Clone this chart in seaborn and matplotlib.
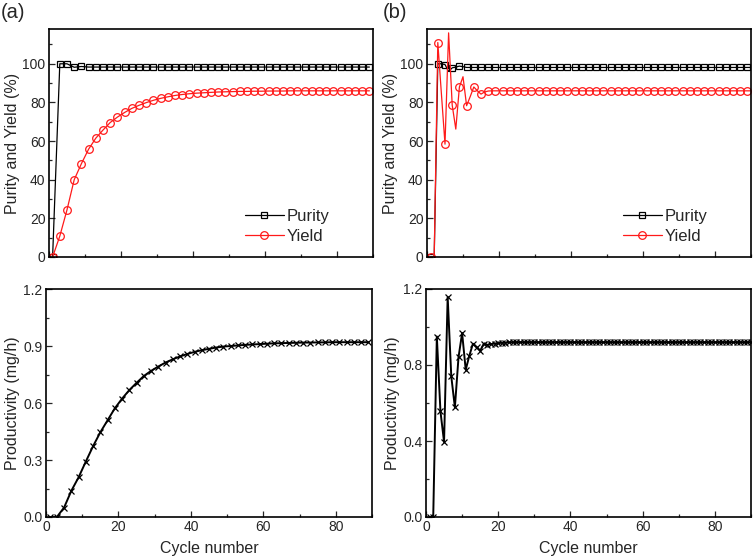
import numpy as np
import pandas as pd
import seaborn as sns
import matplotlib.pyplot as plt
from matplotlib.ticker import MultipleLocator

sns.set_style("ticks")
plt.rcParams['font.family'] = ['Liberation Sans', 'DejaVu Sans']

# (a) sampled every other cycle
cycles_a = list(range(1, 90, 2))
purity_a = [0, 100, 100, 98.2, 98.6] + [98.3] * 40
yield_a = [0, 10.8, 24.4, 40.0, 48.3, 55.8, 61.5, 65.7, 69.6, 72.4, 74.8, 76.9,
           78.5, 79.9, 81.1, 82.1, 82.9, 83.6, 84.1, 84.5, 84.8, 85.0, 85.2,
           85.4, 85.5, 85.6, 85.7, 85.7, 85.8, 85.8, 85.9, 85.9, 85.9, 86.0,
           86.0, 86.0, 86.0, 86.0, 86.0, 86.0, 86.0, 86.0, 86.0, 86.0, 86.0]
prod_a = [0, 0, 0.05, 0.138, 0.209, 0.292, 0.373, 0.446, 0.509, 0.572, 0.623,
          0.668, 0.706, 0.742, 0.769, 0.792, 0.813, 0.830, 0.845, 0.858, 0.869,
          0.878, 0.885, 0.892, 0.897, 0.900, 0.903, 0.906, 0.908, 0.910, 0.912,
          0.914, 0.915, 0.916, 0.917, 0.918, 0.918, 0.919, 0.919, 0.920, 0.920,
          0.920, 0.920, 0.920, 0.920]

# (b) every cycle
cycles_b = list(range(1, 91))
purity_b = [0, 0, 100, 100, 99.6, 96.0, 97.9, 98.3, 98.8, 98.5, 98.1] + [98.1] * 79
yield_b = [0, 0, 111, 84.5, 58.4, 116, 78.6, 66.2, 88, 93.3, 78.3, 83, 88,
           86, 84.3, 85.4, 85.9] + [86.0] * 73
prod_b = [0, 0, 0.95, 0.556, 0.395, 1.158, 0.74, 0.577, 0.84, 0.968, 0.775,
          0.849, 0.912, 0.893, 0.875, 0.912, 0.906, 0.910, 0.913, 0.915, 0.917,
          0.918, 0.919] + [0.920] * 67

W, H = 756, 560
fig = plt.figure(figsize=(W / 100, H / 100), dpi=100)
ax_tl = fig.add_axes([49 / W, 1 - 257 / H, 324 / W, 228 / H])
ax_tr = fig.add_axes([427 / W, 1 - 257 / H, 324 / W, 228 / H])
ax_bl = fig.add_axes([46 / W, 1 - 517 / H, 326 / W, 228 / H])
ax_br = fig.add_axes([426 / W, 1 - 517 / H, 325 / W, 228 / H])

red = '#ff1a1a'
lab_fs = 11.5

for ax, cyc, pur, yld, mev in [(ax_tl, cycles_a, purity_a, yield_a, 1),
                                (ax_tr, cycles_b, purity_b, yield_b, 2)]:
    sns.lineplot(x=cyc, y=pur, ax=ax, color='black', lw=0.9, marker='s',
                 markersize=4.2, markerfacecolor='none', markeredgecolor='black',
                 markeredgewidth=0.9, markevery=mev, label='Purity')
    sns.lineplot(x=cyc, y=yld, ax=ax, color=red, lw=0.9, marker='o',
                 markersize=5.5, markerfacecolor='none', markeredgecolor=red,
                 markeredgewidth=0.9, markevery=mev, label='Yield')
    ax.set_ylim(0, 118)
    ax.set_yticks([0, 20, 40, 60, 80, 100])
    ax.yaxis.set_minor_locator(MultipleLocator(10))
    ax.set_ylabel('Purity and Yield (%)', fontsize=lab_fs, labelpad=2)
    ax.tick_params(axis='x', labelbottom=False)
    ax.legend(loc='center left', bbox_to_anchor=(0.585, 0.135), frameon=False,
              fontsize=12, handlelength=2.3, handletextpad=0.2,
              labelspacing=0.3, borderaxespad=0)

sns.lineplot(x=cycles_a, y=prod_a, ax=ax_bl, color='black', lw=1.4, marker='x',
             markersize=4.5, markeredgewidth=0.9, markeredgecolor='black')
sns.lineplot(x=cycles_b, y=prod_b, ax=ax_br, color='black', lw=1.4, marker='x',
             markersize=4.5, markeredgewidth=0.9, markeredgecolor='black')

ax_bl.set_ylim(0, 1.2)
ax_bl.yaxis.set_major_locator(MultipleLocator(0.3))
ax_bl.yaxis.set_minor_locator(MultipleLocator(0.15))
ax_br.set_ylim(0, 1.2)
ax_br.yaxis.set_major_locator(MultipleLocator(0.4))
ax_br.yaxis.set_minor_locator(MultipleLocator(0.2))
for ax in (ax_bl, ax_br):
    ax.set_ylabel('Productivity (mg/h)', fontsize=lab_fs, labelpad=2)
    ax.set_xlabel('Cycle number', fontsize=lab_fs, labelpad=5)
    ax.yaxis.set_major_formatter(plt.FormatStrFormatter('%.1f'))

for ax in (ax_tl, ax_tr, ax_bl, ax_br):
    ax.set_xlim(0, 90)
    ax.xaxis.set_major_locator(MultipleLocator(20))
    ax.xaxis.set_minor_locator(MultipleLocator(10))
    ax.tick_params(which='both', direction='in', top=False, right=False,
                   labelsize=10, width=0.9, pad=2.5)
    ax.tick_params(which='major', length=4)
    ax.tick_params(which='minor', length=2.5)
    for s in ax.spines.values():
        s.set_visible(True)
        s.set_linewidth(1.2)
        s.set_color('black')

fig.text(1 / W, 1 - 12 / H, '(a)', fontsize=14.5, va='center', ha='left')
fig.text(383 / W, 1 - 12 / H, '(b)', fontsize=14.5, va='center', ha='left')

fig.savefig('out.png', dpi=100)
